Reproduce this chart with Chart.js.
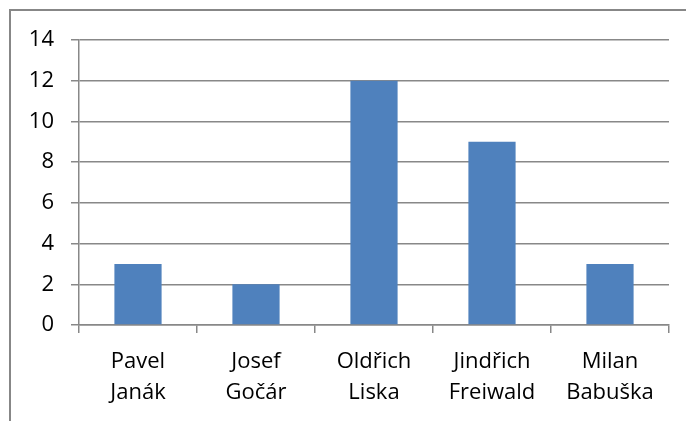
<!DOCTYPE html>
<html>
<head>
<meta charset="utf-8">
<script src="https://cdn.jsdelivr.net/npm/chart.js@4"></script>
<style>
	html, body { margin: 0; padding: 0; background: #fff; }
	#frame { position: absolute; left: 9px; top: 9px; width: 700px; height: 500px; border: 2px solid #878787; }
	#wrap { position: absolute; left: 0; top: 0; width: 686px; height: 421px; }
</style>
</head>
<body>
<div id="frame"></div>
<div id="wrap"><canvas id="canvas-chart-bar-architekti"></canvas></div>
<script>
var jmena=[["Pavel","Janák"],["Josef","Gočár"],["Oldřich","Liska"],["Jindřich","Freiwald"],["Milan","Babuška"]];
var pocty=[3,2,12,9,3];
var osaY=[0,2,4,6,8,10,12,14];

var _modra='#4F81BD';
var _seda='#888888';
var _pismo={family:"'Open Sans'",size:22,lineHeight:1.41};

const canvasArchitekti = document.getElementById('canvas-chart-bar-architekti').getContext('2d');
var chartArchitekti;

function chartArchitektiBar(){
	chartArchitekti = new Chart(canvasArchitekti, {
		type: 'bar',
		data: {
			labels: jmena,
			datasets: [{
				label: 'Počet',
				data: pocty,
				backgroundColor: _modra,
				borderWidth: 0,
				categoryPercentage: 1,
				barPercentage: 0.4
			}]
		},
		options: {
			responsive: true,
			maintainAspectRatio: false,
			animation: false,
			layout: {
				padding: {top: 40, right: 17, bottom: 0, left: 0}
			},
			plugins: {
				legend: { display: false },
				tooltip: { enabled: false }
			},
			scales: {
				x: {
					grid: {
						offset: true,
						drawOnChartArea: false,
						drawTicks: true,
						tickLength: 8,
						color: _seda,
						lineWidth: 1.5
					},
					border: { color: _seda, width: 1.5 },
					ticks: {
						color: '#000',
						font: _pismo,
						padding: 13,
						maxRotation: 0,
						autoSkip: false
					},
					afterFit: function(scale){ scale.height = 96; }
				},
				y: {
					min: 0,
					max: 14,
					afterBuildTicks: function(scale){
						scale.ticks = osaY.map(function(v){ return {value: v}; });
					},
					grid: {
						tickLength: 8,
						color: _seda,
						lineWidth: 1.5
					},
					border: { color: _seda, width: 1.5 },
					ticks: {
						color: '#000',
						font: _pismo,
						padding: 17
					},
					afterFit: function(scale){ scale.width = 79; }
				}
			}
		}
	});
}

chartArchitektiBar();
</script>
</body>
</html>
